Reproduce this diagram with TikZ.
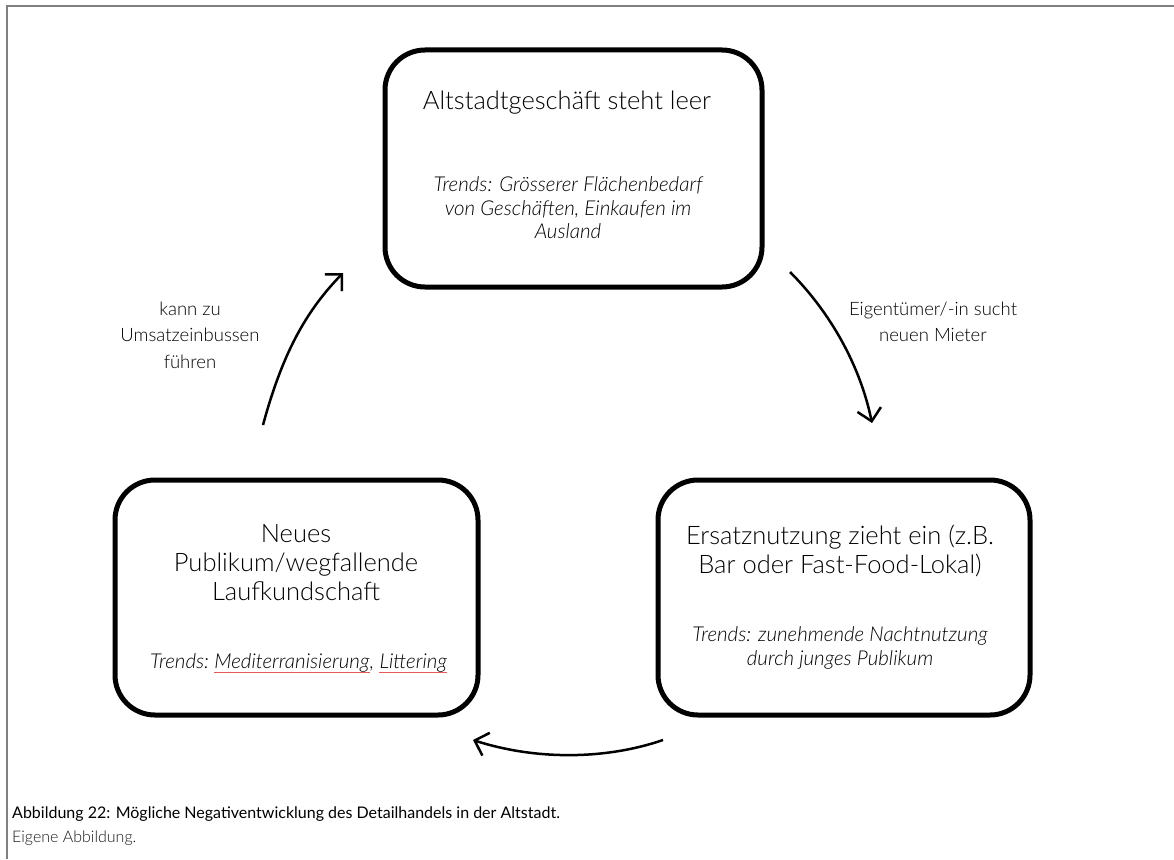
\documentclass[tikz,border=0pt]{standalone}
\usepackage{fontspec}
\setmainfont{Lato Light}
\newfontfamily\capfont{Lato}
\usetikzlibrary{arrows.meta}
\definecolor{squig}{RGB}{232,90,90}
\tikzset{
  box/.style={draw, line width=5pt, rounded corners=40pt},
  ttl/.style={align=center, font=\fontsize{25.5}{29}\selectfont, text=black},
  trd/.style={align=center, font=\fontsize{20.5}{23.5}\selectfont\itshape, text=black},
  trdw/.style={font=\fontsize{20.5}{23.5}\selectfont\itshape, text=black, inner sep=0pt, anchor=base west},
  lbl/.style={align=center, font=\fontsize{18.5}{26.5}\selectfont, text=black},
  flow/.style={line width=2.5pt, -{Straight Barb[length=12pt,width=24pt,line width=2.5pt]}},
  sq/.style={draw=squig, line width=0.8pt}
}
\begin{document}
\begin{tikzpicture}[x=1pt,y=-1pt]
\useasboundingbox (0,0) rectangle (1174,859);
\fill[white] (0,0) rectangle (1174,859);
\draw[gray, line width=2pt] (7,859) -- (7,6) -- (1174,6);

\node[box, minimum width=377pt, minimum height=237pt] (top) at (573.5,168.5) {};
\node[box, minimum width=363pt, minimum height=235pt] (left) at (296.5,597.5) {};
\node[box, minimum width=372pt, minimum height=235pt] (right) at (844,597.5) {};

\node[ttl] (toptitle) at (567,103) {Altstadtgeschäft steht leer};
\node[trd] (toptrend) at (568,208) {Trends: Grösserer Flächenbedarf\\von Geschäften, Einkaufen im\\Ausland};

\node[ttl] (lefttitle) at (296,563) {Neues\\Publikum/wegfallende\\Laufkundschaft};
\node[trdw] (lt1) at (150,668) {Trends:};
\node[trdw] (lt2) at ([xshift=5pt]lt1.base east) {Mediterranisierung};
\node[trdw] (lt3) at (lt2.base east) {,};
\node[trdw] (lt4) at ([xshift=5pt]lt3.base east) {Littering};
\draw[sq] ([yshift=-4pt]lt2.base west) -- ([yshift=-4pt]lt2.base east);
\draw[sq] ([yshift=-4pt]lt4.base west) -- ([yshift=-4pt]lt4.base east);

\node[ttl] (righttitle) at (840,551) {Ersatznutzung zieht ein (z.B.\\Bar oder Fast-Food-Lokal)};
\node[trd] (righttrend) at (840,648) {Trends: zunehmende Nachtnutzung\\durch junges Publikum};

\node[lbl] (lbl1) at (190,335) {kann zu\\Umsatzeinbussen\\führen};
\node[lbl] (lbl2) at (933,322) {Eigentümer/-in sucht\\neuen Mieter};

\coordinate (a1s) at (263,425);
\coordinate (a1e) at (343,273);
\coordinate (a2s) at (790,272);
\coordinate (a2e) at (872,423);
\coordinate (a3s) at (663,740);
\coordinate (a3e) at (473,740);
\draw[flow] (a1s) .. controls (282,355) and (305,312) .. (a1e);
\draw[flow] (a2s) .. controls (830,312) and (860,365) .. (a2e);
\draw[flow] (a3s) .. controls (605,760) and (535,760) .. (a3e);

\node[anchor=base west, font=\capfont\fontsize{16}{20}\selectfont, text=black, inner sep=0pt] (cap) at (12,818) {Abbildung 22: Mögliche Negativentwicklung des Detailhandels in der Altstadt.};
\node[anchor=base west, font=\fontsize{16}{20}\selectfont, text=black!90, inner sep=0pt] (src) at (12,842) {Eigene Abbildung.};
\end{tikzpicture}
\end{document}
